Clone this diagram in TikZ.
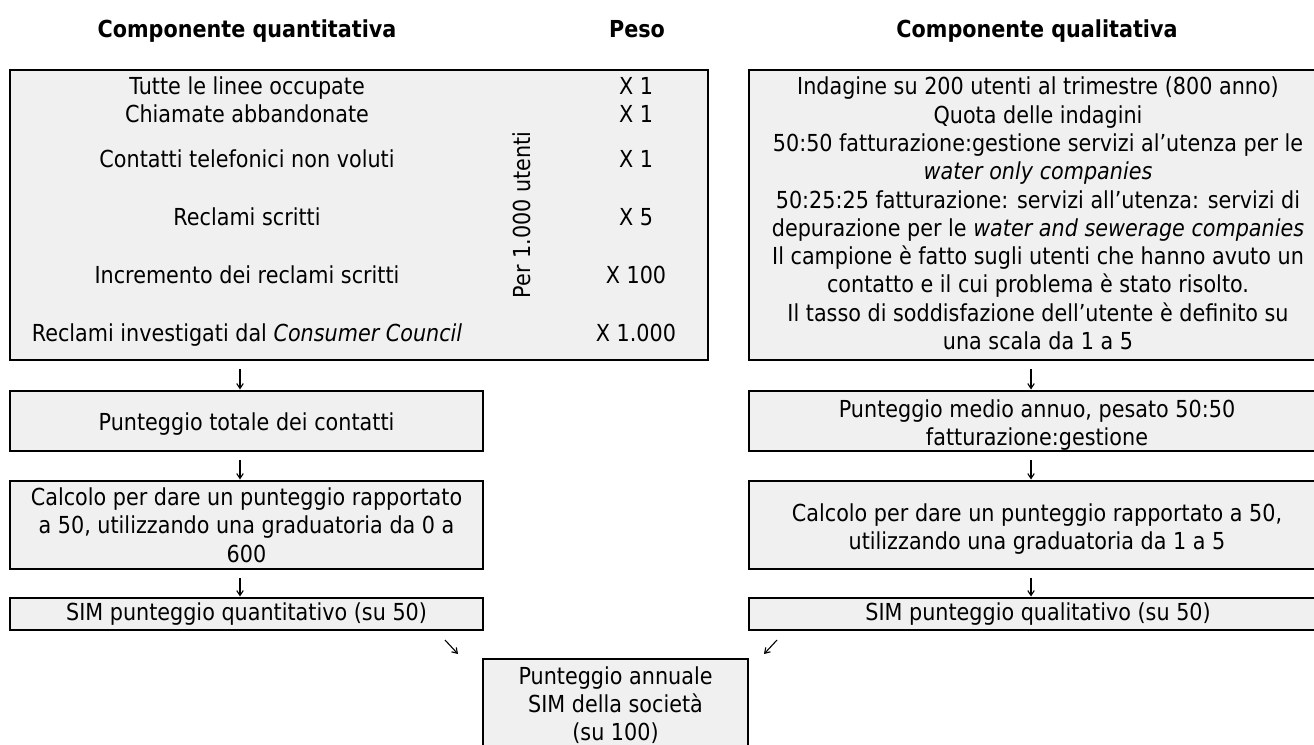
\documentclass[tikz,border=0pt]{standalone}
\usepackage{fontspec}
\setmainfont{DejaVu Sans}[FakeStretch=0.886]
\usetikzlibrary{arrows.meta,calc}
\definecolor{boxfill}{RGB}{240,240,240}
\newcommand\mainsz{\fontsize{23.4}{28.3}\selectfont}
\tikzset{
  box/.style={draw=black, line width=2.5pt, fill=boxfill, inner sep=0pt, outer sep=0pt, align=center, font=\mainsz},
  txt/.style={inner sep=0pt, align=center, font=\mainsz},
  row/.style={txt, anchor=base},
  head/.style={inner sep=0pt, anchor=base, font=\mainsz\bfseries},
  tip/.style={-{Straight Barb[length=5pt,width=6.5pt,line width=1.1pt]}, line width=1.1pt},
  flow/.style={tip, shorten <=9pt, shorten >=1.5pt},
}
\begin{document}
\begin{tikzpicture}[x=1pt,y=-1pt]
\useasboundingbox (0,0) rectangle (1314,744);
\clip (0,0) rectangle (1314,744);

% column headings
\node[head] (hq) at (247,37.5) {Componente quantitativa};
\node[head] (hp) at (637,37.5) {Peso};
\node[head] (hl) at (1037,37.5) {Componente qualitativa};

% quantitative input table
\node[box, minimum width=698pt, minimum height=290pt] (qbig) at (359,215) {};
\node[row] (c1) at (247,94.5)  {Tutte le linee occupate};
\node[row] (c2) at (247,122.5) {Chiamate abbandonate};
\node[row] (c3) at (247,167.5) {Contatti telefonici non voluti};
\node[row] (c4) at (247,225.5) {Reclami scritti};
\node[row] (c5) at (247,283.5) {Incremento dei reclami scritti};
\node[row] (c6) at (247,341.5) {Reclami investigati dal \textit{Consumer Council}};
\node[txt, rotate=90] (per) at (522,215) {Per 1.000 utenti};
\node[row] (w1) at (636,94.5)  {X 1};
\node[row] (w2) at (636,122.5) {X 1};
\node[row] (w3) at (636,167.5) {X 1};
\node[row] (w4) at (636,225.5) {X 5};
\node[row] (w5) at (636,283.5) {X 100};
\node[row] (w6) at (636,341.5) {X 1.000};

% qualitative survey description
\node[box, minimum width=578pt, minimum height=290pt] (lbig) at (1038,215) {};
\node[txt] (ltext) at (1038,213.5) {Indagine su 200 utenti al trimestre (800 anno)\\
Quota delle indagini\\
50:50 fatturazione:gestione servizi al’utenza per le\\
\textit{water only companies}\\
50:25:25 fatturazione: servizi all’utenza: servizi di\\
depurazione per le \textit{water and sewerage companies}\\
Il campione è fatto sugli utenti che hanno avuto un\\
contatto e il cui problema è stato risolto.\\
Il tasso di soddisfazione dell’utente è definito su\\
una scala da 1 a 5};

% left chain
\node[box, minimum width=473pt, minimum height=60pt] (q2) at (246.5,421) {};
\node[row] (q2t) at (246.5,430.5) {Punteggio totale dei contatti};
\node[box, minimum width=473pt, minimum height=88pt] (q3) at (246.5,525) {Calcolo per dare un punteggio rapportato\\a 50, utilizzando una graduatoria da 0 a\\600};
\node[box, minimum width=473pt, minimum height=32pt] (q4) at (246.5,614) {SIM punteggio quantitativo (su 50)};

% right chain
\node[box, minimum width=578pt, minimum height=60pt] (l2) at (1038,421) {};
\node[txt] (l2t) at (1037,425) {Punteggio medio annuo, pesato 50:50\\fatturazione:gestione};
\node[box, minimum width=578pt, minimum height=88pt] (l3) at (1038,525) {};
\node[txt] (l3t) at (1037,529) {Calcolo per dare un punteggio rapportato a 50,\\utilizzando una graduatoria da 1 a 5};
\node[box, minimum width=578pt, minimum height=32pt] (l4) at (1038,614) {SIM punteggio qualitativo (su 50)};

% final score
\node[box, minimum width=265pt, minimum height=92pt] (tot) at (615.5,705) {Punteggio annuale\\SIM della società\\(su 100)};

% connectors
\coordinate (aL) at (240,0);
\coordinate (aR) at (1031,0);
\draw[flow] (qbig.south -| aL) -- (q2.north -| aL);
\draw[flow] (q2.south -| aL) -- (q3.north -| aL);
\draw[flow] (q3.south -| aL) -- (q4.north -| aL);
\draw[flow] (lbig.south -| aR) -- (l2.north -| aR);
\draw[flow] (l2.south -| aR) -- (l3.north -| aR);
\draw[flow] (l3.south -| aR) -- (l4.north -| aR);
\draw[tip] ($(q4.south east)+(-38,10)$) -- ($(tot.north west)+(-25,-5)$);
\draw[tip] ($(l4.south west)+(28,10)$) -- ($(tot.north east)+(16,-5)$);
\end{tikzpicture}
\end{document}
